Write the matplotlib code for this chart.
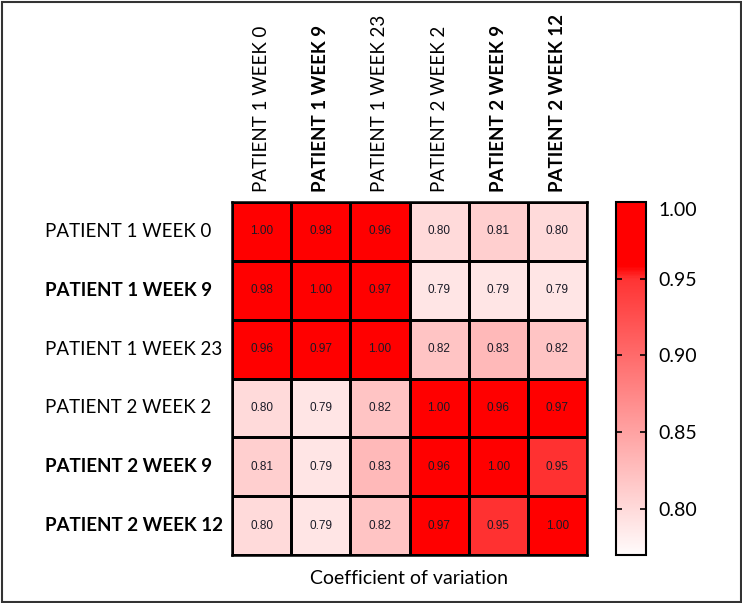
import numpy as np
import matplotlib
matplotlib.use("Agg")
import matplotlib.pyplot as plt
from matplotlib.colors import LinearSegmentedColormap, Normalize
from matplotlib.transforms import blended_transform_factory
from matplotlib.patches import Rectangle

row_labels = ["PATIENT 1 WEEK 0", "PATIENT 1 WEEK 9", "PATIENT 1 WEEK 23",
              "PATIENT 2 WEEK 2", "PATIENT 2 WEEK 9", "PATIENT 2 WEEK 12"]
col_labels = list(row_labels)
bold_flags = [False, True, False, False, True, True]

row_p1w0 = [1.00, 0.98, 0.96, 0.80, 0.81, 0.80]
row_p1w9 = [0.98, 1.00, 0.97, 0.79, 0.79, 0.79]
row_p1w23 = [0.96, 0.97, 1.00, 0.82, 0.83, 0.82]
row_p2w2 = [0.80, 0.79, 0.82, 1.00, 0.96, 0.97]
row_p2w9 = [0.81, 0.79, 0.83, 0.96, 1.00, 0.95]
row_p2w12 = [0.80, 0.79, 0.82, 0.97, 0.95, 1.00]
values = np.array([row_p1w0, row_p1w9, row_p1w23, row_p2w2, row_p2w9, row_p2w12])

cbar_ticks = [0.80, 0.85, 0.90, 0.95, 1.00]
vmin, vmax = 0.77, 1.00
cbar_title = "Coefficient of variation"

label_font = "Lato"

cmap = LinearSegmentedColormap.from_list(
    "wr",
    [(0.0, (1.0, 0.985, 0.985)),
     (0.783, (1.0, 0.20, 0.20)),
     (0.82, (1.0, 0.0, 0.0)),
     (1.0, (1.0, 0.0, 0.0))])
norm = Normalize(vmin=vmin, vmax=vmax)

W, H = 742, 603
fig = plt.figure(figsize=(W / 100, H / 100), dpi=100)

ax = fig.add_axes([232 / W, 1 - 555 / H, 355 / W, 353 / H])
n = len(row_labels)
mesh = ax.pcolormesh(np.arange(n + 1), np.arange(n + 1), values, cmap=cmap, norm=norm,
                     edgecolors="black", linewidth=1.0)
ax.set_xlim(0, n)
ax.set_ylim(n, 0)
ax.set_xticks([])
ax.set_yticks([])
for sp in ax.spines.values():
    sp.set_linewidth(1.8)
    sp.set_color("black")

for i in range(n):
    for j in range(n):
        ax.text(j + 0.5, i + 0.5, f"{values[i, j]:.2f}", ha="center", va="center",
                fontsize=8.5, color="#1a1a26", family="Liberation Sans")

trans_rows = blended_transform_factory(fig.transFigure, ax.transData)
for i, lab in enumerate(row_labels):
    fig.text(45 / W, i + 0.5, lab, transform=trans_rows, ha="left", va="center",
             fontsize=13.5, family=label_font,
             fontweight="bold" if bold_flags[i] else "normal")

trans_cols = blended_transform_factory(ax.transData, ax.transAxes)
for j, lab in enumerate(col_labels):
    ax.text(j + 0.5, 1 + 10 / 353, lab, transform=trans_cols, ha="center", va="bottom",
            rotation=90, fontsize=13.5, family=label_font,
            fontweight="bold" if bold_flags[j] else "normal")

ax.text(0.5, -23 / 353, cbar_title, transform=ax.transAxes, ha="center", va="center",
        fontsize=14, family=label_font)

cax = fig.add_axes([616 / W, 1 - 555 / H, 30 / W, 353 / H])
cb = fig.colorbar(mesh, cax=cax)
cb.set_ticks(cbar_ticks)
cb.set_ticklabels([f"{t:.2f}" for t in cbar_ticks])
cb.outline.set_linewidth(1.5)
cax.tick_params(axis="y", direction="in", length=4, width=1.2, left=True, right=True,
                labelleft=False, labelright=True, labelsize=14, pad=9)
for lab in cax.get_yticklabels():
    lab.set_family(label_font)
labs = cax.get_yticklabels()
labs[-1].set_verticalalignment("top")

fig.patches.append(Rectangle((1.5 / W, 1.5 / H), (W - 3) / W, (H - 3) / H,
                             transform=fig.transFigure, fill=False,
                             edgecolor="#333333", linewidth=1.5))

fig.savefig("out.png", dpi=100)
